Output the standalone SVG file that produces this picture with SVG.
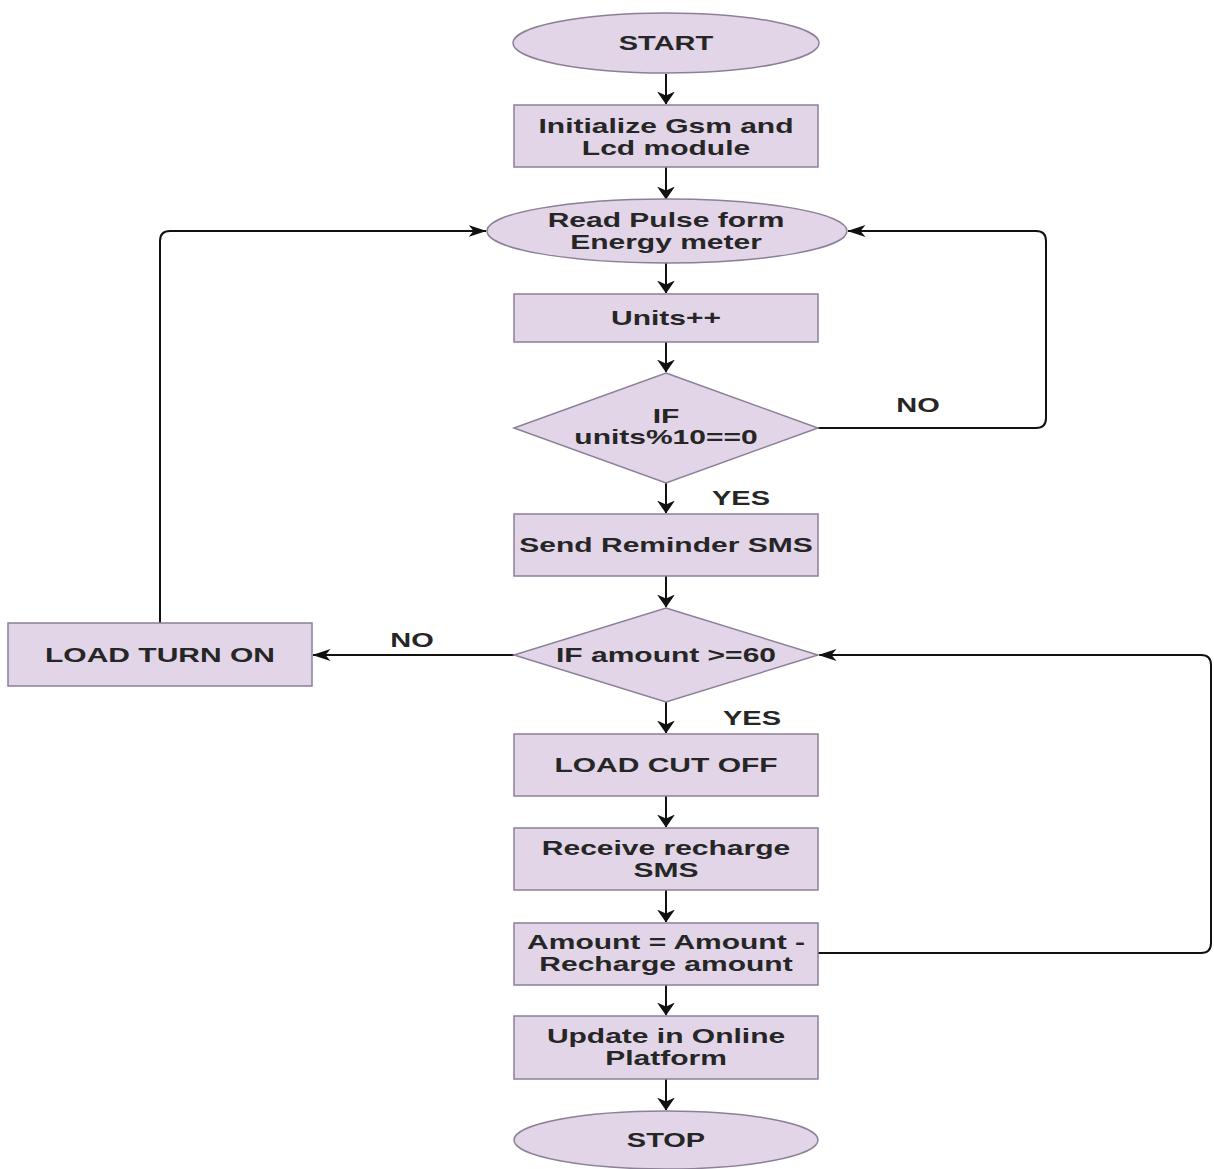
<svg xmlns="http://www.w3.org/2000/svg" width="1214" height="1169" viewBox="0 0 1214 1169">
<style>
.n{fill:#e1d5e7;stroke:#8c7f98;stroke-width:1.5}
.t{font-family:"Liberation Sans",Arial,sans-serif;font-weight:bold;font-size:20px;fill:#262626;text-anchor:middle}
.c{fill:none;stroke:#111;stroke-width:2}
.v{marker-end:url(#av)}
.h{marker-end:url(#ah)}
</style>
<defs>
<marker id="av" viewBox="0 0 13 18" refX="12.5" refY="9" markerWidth="13" markerHeight="18" orient="auto" markerUnits="userSpaceOnUse">
<path d="M0,0 L13,9 L0,18 L4,9 Z" fill="#111"/>
</marker>
<marker id="ah" viewBox="0 0 18 12" refX="17.5" refY="6" markerWidth="18" markerHeight="12" orient="auto" markerUnits="userSpaceOnUse">
<path d="M0,0 L18,6 L0,12 L5,6 Z" fill="#111"/>
</marker>
</defs>
<rect width="1214" height="1169" fill="#fff"/>
<g id="connectors">
<path class="c v" d="M666,74 V104"/>
<path class="c v" d="M666,167 V199"/>
<path class="c v" d="M666,263 V293"/>
<path class="c v" d="M666,342 V372"/>
<path class="c v" d="M666,483 V513"/>
<path class="c v" d="M666,576 V607"/>
<path class="c v" d="M666,702 V733"/>
<path class="c v" d="M666,796 V827"/>
<path class="c v" d="M666,890 V922"/>
<path class="c v" d="M666,985 V1015"/>
<path class="c v" d="M666,1079 V1110"/>
<path class="c h" d="M818,428 H1036 Q1046,428 1046,418 V241 Q1046,231 1036,231 H848"/>
<path class="c h" d="M514,655 H313"/>
<path class="c h" d="M160,623 V241 Q160,231 170,231 H486"/>
<path class="c h" d="M818,953 H1201 Q1211,953 1211,943 V665 Q1211,655 1201,655 H819"/>
<text class="t" transform="translate(918,412) scale(1.45,1)">NO</text>
<text class="t" transform="translate(741,505) scale(1.45,1)">YES</text>
<text class="t" transform="translate(412,647) scale(1.45,1)">NO</text>
<text class="t" transform="translate(752,725) scale(1.45,1)">YES</text>
</g>
<g id="start">
<ellipse class="n" cx="666" cy="43" rx="153" ry="30"/>
<text class="t" transform="translate(666,50) scale(1.45,1)">START</text>
</g>
<g id="init">
<rect class="n" x="514" y="105" width="304" height="62"/>
<text class="t" transform="translate(666,133) scale(1.5,1)">Initialize Gsm and</text>
<text class="t" transform="translate(666,155) scale(1.5,1)">Lcd module</text>
</g>
<g id="read">
<ellipse class="n" cx="667" cy="231" rx="180" ry="32"/>
<text class="t" transform="translate(666,227) scale(1.5,1)">Read Pulse form</text>
<text class="t" transform="translate(666,249) scale(1.5,1)">Energy meter</text>
</g>
<g id="units">
<rect class="n" x="514" y="294" width="304" height="48"/>
<text class="t" transform="translate(666,325) scale(1.5,1)">Units++</text>
</g>
<g id="dec1">
<polygon class="n" points="666,373 818,428 666,483 514,428"/>
<text class="t" transform="translate(666,423) scale(1.5,1)">IF</text>
<text class="t" transform="translate(666,444) scale(1.5,1)">units%10==0</text>
</g>
<g id="sms">
<rect class="n" x="514" y="514" width="304" height="62"/>
<text class="t" transform="translate(666,552) scale(1.5,1)">Send Reminder SMS</text>
</g>
<g id="dec2">
<polygon class="n" points="666,608 818,655 666,702 514,655"/>
<text class="t" transform="translate(666,662) scale(1.5,1)">IF amount &gt;=60</text>
</g>
<g id="loadon">
<rect class="n" x="8" y="623" width="304" height="63"/>
<text class="t" transform="translate(160,662) scale(1.5,1)">LOAD TURN ON</text>
</g>
<g id="cutoff">
<rect class="n" x="514" y="734" width="304" height="62"/>
<text class="t" transform="translate(666,772) scale(1.5,1)">LOAD CUT OFF</text>
</g>
<g id="receive">
<rect class="n" x="514" y="828" width="304" height="62"/>
<text class="t" transform="translate(666,855) scale(1.5,1)">Receive recharge</text>
<text class="t" transform="translate(666,877) scale(1.5,1)">SMS</text>
</g>
<g id="amount">
<rect class="n" x="514" y="923" width="304" height="62"/>
<text class="t" transform="translate(666,949) scale(1.5,1)">Amount = Amount -</text>
<text class="t" transform="translate(666,971) scale(1.5,1)">Recharge amount</text>
</g>
<g id="update">
<rect class="n" x="514" y="1016" width="304" height="63"/>
<text class="t" transform="translate(666,1043) scale(1.5,1)">Update in Online</text>
<text class="t" transform="translate(666,1065) scale(1.5,1)">Platform</text>
</g>
<g id="stop">
<ellipse class="n" cx="666" cy="1140" rx="152" ry="29"/>
<text class="t" transform="translate(666,1147) scale(1.45,1)">STOP</text>
</g>
</svg>
